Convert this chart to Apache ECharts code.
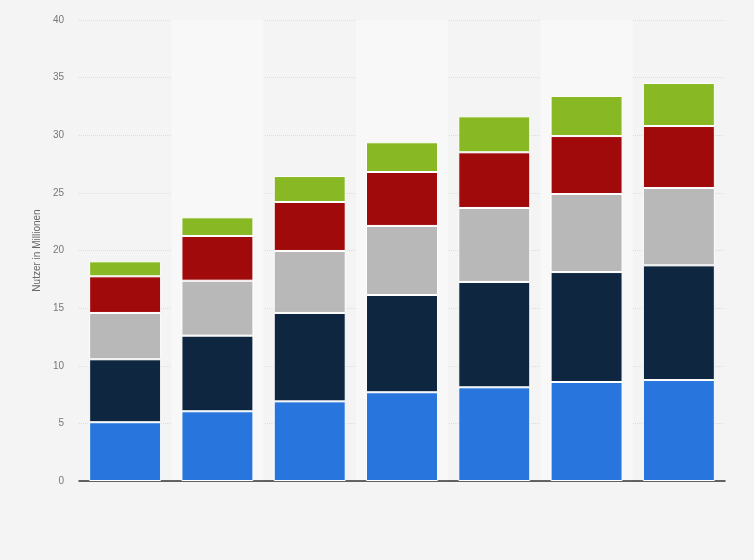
<!DOCTYPE html>
<html>
<head>
<meta charset="utf-8">
<script src="https://cdn.jsdelivr.net/npm/echarts@6/dist/echarts.min.js"></script>
<style>
  html, body {margin: 0; padding: 0; background: #f4f4f4;}
  #chart {width: 754px; height: 560px;}
</style>
</head>
<body>
<div id="chart"></div>
<script>
// categories (no labels shown in the picture)
let categories = ['1', '2', '3', '4', '5', '6', '7'];
let yTicks = [0, 5, 10, 15, 20, 25, 30, 35, 40];

// stacked segments, bottom to top
let blueData = [5.1, 6.05, 6.91, 7.7, 8.13, 8.59, 8.76];
let navyData = [5.46, 6.56, 7.67, 8.44, 9.14, 9.54, 9.95];
let greyData = [4.02, 4.77, 5.38, 5.99, 6.42, 6.77, 6.71];
let redData = [3.18, 3.88, 4.25, 4.68, 4.83, 5.03, 5.38];
let greenData = [1.3, 1.62, 2.25, 2.58, 3.12, 3.48, 3.73];

let seriesList = [
  {name: 'a', data: blueData, color: '#2876dd'},
  {name: 'b', data: navyData, color: '#0f2640'},
  {name: 'c', data: greyData, color: '#b8b8b8'},
  {name: 'd', data: redData, color: '#a10a0a'},
  {name: 'e', data: greenData, color: '#88b823'}
];

let chart = echarts.init(document.getElementById('chart'));
chart.setOption({
  backgroundColor: '#f4f4f4',
  animation: false,
  grid: {left: 79, right: 29, top: 20, bottom: 79},
  xAxis: {
    type: 'category',
    data: categories,
    axisLine: {lineStyle: {color: '#333', width: 1.5}},
    axisTick: {show: false},
    axisLabel: {show: false},
    splitArea: {show: true, areaStyle: {color: ['rgba(0,0,0,0)', '#f8f8f8']}}
  },
  yAxis: {
    type: 'value',
    min: yTicks[0],
    max: yTicks[yTicks.length - 1],
    interval: 5,
    name: 'Nutzer in Millionen',
    nameLocation: 'middle',
    nameGap: 33,
    nameTextStyle: {color: '#666', fontSize: 10, fontFamily: 'Liberation Sans'},
    axisLine: {show: false},
    axisTick: {show: false},
    axisLabel: {color: '#777', fontSize: 10, margin: 15, fontFamily: 'Liberation Sans'},
    splitLine: {lineStyle: {color: '#dcdcdc', type: 'dotted', width: 1}}
  },
  series: seriesList.map(function (s) {
    return {
      name: s.name,
      type: 'bar',
      stack: 'total',
      data: s.data,
      barCategoryGap: '22%',
      itemStyle: {color: s.color, borderColor: '#ffffff', borderWidth: 1}
    };
  })
});
</script>
</body>
</html>
